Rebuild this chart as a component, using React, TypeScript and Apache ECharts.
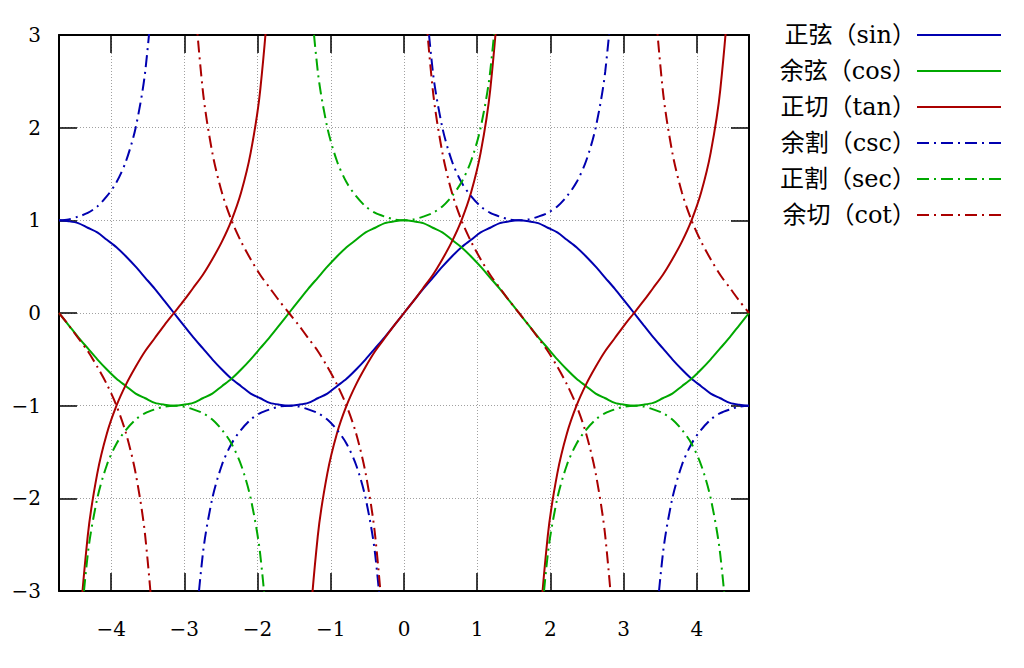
import React, { useEffect, useRef } from "react";
import * as echarts from "echarts";

// x sample positions (radians), from -3π/2 to 3π/2
const X: number[] = [
  -4.712, -4.581, -4.451, -4.32, -4.189, -4.058, -3.927, -3.796, -3.665, -3.534, -3.403, -3.272,
  -3.142, -3.011, -2.88, -2.749, -2.618, -2.487, -2.356, -2.225, -2.094, -1.963, -1.833, -1.702,
  -1.571, -1.44, -1.309, -1.178, -1.047, -0.916, -0.785, -0.654, -0.524, -0.393, -0.262, -0.131,
  0,
  0.131, 0.262, 0.393, 0.524, 0.654, 0.785, 0.916, 1.047, 1.178, 1.309, 1.44, 1.571,
  1.702, 1.833, 1.963, 2.094, 2.225, 2.356, 2.487, 2.618, 2.749, 2.88, 3.011, 3.142,
  3.272, 3.403, 3.534, 3.665, 3.796, 3.927, 4.058, 4.189, 4.32, 4.451, 4.581, 4.712,
];

const SIN: (number | null)[] = [
  1, 0.99, 0.97, 0.92, 0.87, 0.79, 0.71, 0.61, 0.5, 0.38, 0.26, 0.13, 0,
  -0.13, -0.26, -0.38, -0.5, -0.61, -0.71, -0.79, -0.87, -0.92, -0.97, -0.99, -1,
  -0.99, -0.97, -0.92, -0.87, -0.79, -0.71, -0.61, -0.5, -0.38, -0.26, -0.13, 0,
  0.13, 0.26, 0.38, 0.5, 0.61, 0.71, 0.79, 0.87, 0.92, 0.97, 0.99, 1,
  0.99, 0.97, 0.92, 0.87, 0.79, 0.71, 0.61, 0.5, 0.38, 0.26, 0.13, 0,
  -0.13, -0.26, -0.38, -0.5, -0.61, -0.71, -0.79, -0.87, -0.92, -0.97, -0.99, -1,
];

const COS: (number | null)[] = [
  0, -0.13, -0.26, -0.38, -0.5, -0.61, -0.71, -0.79, -0.87, -0.92, -0.97, -0.99, -1,
  -0.99, -0.97, -0.92, -0.87, -0.79, -0.71, -0.61, -0.5, -0.38, -0.26, -0.13, 0,
  0.13, 0.26, 0.38, 0.5, 0.61, 0.71, 0.79, 0.87, 0.92, 0.97, 0.99, 1,
  0.99, 0.97, 0.92, 0.87, 0.79, 0.71, 0.61, 0.5, 0.38, 0.26, 0.13, 0,
  -0.13, -0.26, -0.38, -0.5, -0.61, -0.71, -0.79, -0.87, -0.92, -0.97, -0.99, -1,
  -0.99, -0.97, -0.92, -0.87, -0.79, -0.71, -0.61, -0.5, -0.38, -0.26, -0.13, 0,
];

const TAN: (number | null)[] = [
  null,
  -7.6, -3.73, -2.41, -1.73, -1.3, -1, -0.77, -0.58, -0.41, -0.27, -0.13, 0,
  0.13, 0.27, 0.41, 0.58, 0.77, 1, 1.3, 1.73, 2.41, 3.73, 7.6, null,
  -7.6, -3.73, -2.41, -1.73, -1.3, -1, -0.77, -0.58, -0.41, -0.27, -0.13, 0,
  0.13, 0.27, 0.41, 0.58, 0.77, 1, 1.3, 1.73, 2.41, 3.73, 7.6, null,
  -7.6, -3.73, -2.41, -1.73, -1.3, -1, -0.77, -0.58, -0.41, -0.27, -0.13, 0,
  0.13, 0.27, 0.41, 0.58, 0.77, 1, 1.3, 1.73, 2.41, 3.73, 7.6, null,
];

const CSC: (number | null)[] = [
  1, 1.01, 1.04, 1.08, 1.15, 1.26, 1.41, 1.64, 2, 2.61, 3.86, 7.66, null,
  -7.66, -3.86, -2.61, -2, -1.64, -1.41, -1.26, -1.15, -1.08, -1.04, -1.01, -1,
  -1.01, -1.04, -1.08, -1.15, -1.26, -1.41, -1.64, -2, -2.61, -3.86, -7.66, null,
  7.66, 3.86, 2.61, 2, 1.64, 1.41, 1.26, 1.15, 1.08, 1.04, 1.01, 1,
  1.01, 1.04, 1.08, 1.15, 1.26, 1.41, 1.64, 2, 2.61, 3.86, 7.66, null,
  -7.66, -3.86, -2.61, -2, -1.64, -1.41, -1.26, -1.15, -1.08, -1.04, -1.01, -1,
];

const SEC: (number | null)[] = [
  null,
  -7.66, -3.86, -2.61, -2, -1.64, -1.41, -1.26, -1.15, -1.08, -1.04, -1.01, -1,
  -1.01, -1.04, -1.08, -1.15, -1.26, -1.41, -1.64, -2, -2.61, -3.86, -7.66, null,
  7.66, 3.86, 2.61, 2, 1.64, 1.41, 1.26, 1.15, 1.08, 1.04, 1.01, 1,
  1.01, 1.04, 1.08, 1.15, 1.26, 1.41, 1.64, 2, 2.61, 3.86, 7.66, null,
  -7.66, -3.86, -2.61, -2, -1.64, -1.41, -1.26, -1.15, -1.08, -1.04, -1.01, -1,
  -1.01, -1.04, -1.08, -1.15, -1.26, -1.41, -1.64, -2, -2.61, -3.86, -7.66, null,
];

const COT: (number | null)[] = [
  0, -0.13, -0.27, -0.41, -0.58, -0.77, -1, -1.3, -1.73, -2.41, -3.73, -7.6, null,
  7.6, 3.73, 2.41, 1.73, 1.3, 1, 0.77, 0.58, 0.41, 0.27, 0.13, 0,
  -0.13, -0.27, -0.41, -0.58, -0.77, -1, -1.3, -1.73, -2.41, -3.73, -7.6, null,
  7.6, 3.73, 2.41, 1.73, 1.3, 1, 0.77, 0.58, 0.41, 0.27, 0.13, 0,
  -0.13, -0.27, -0.41, -0.58, -0.77, -1, -1.3, -1.73, -2.41, -3.73, -7.6, null,
  7.6, 3.73, 2.41, 1.73, 1.3, 1, 0.77, 0.58, 0.41, 0.27, 0.13, 0,
];

const X_TICKS = [-4, -3, -2, -1, 0, 1, 2, 3, 4];
const X_MIN = -4.712;
const X_MAX = 4.712;
const Y_MIN = -3;
const Y_MAX = 3;

const NAMES = ["正弦（sin）", "余弦（cos）", "正切（tan）", "余割（csc）", "正割（sec）", "余切（cot）"];
const VALUES = [SIN, COS, TAN, CSC, SEC, COT];
const COLORS = ["#0000b0", "#00a800", "#aa0000", "#0000b0", "#00a800", "#aa0000"];
const DASHED = [false, false, false, true, true, true];

const FONT = "DejaVu Serif, Noto Sans CJK SC";
const fmt = (v: number) => (v < 0 ? "\u2212" + Math.abs(v) : String(v));

export default function App() {
  const ref = useRef<HTMLDivElement>(null);
  useEffect(() => {
    if (!ref.current) return;
    const chart = echarts.init(ref.current, null, { renderer: "svg" });
    const tickStyle = { show: true, inside: true, length: 18, lineStyle: { color: "#000", width: 1.5 } };
    const axisLine = { show: true, onZero: false, lineStyle: { color: "#000", width: 2 } };
    const splitLine = { show: true, lineStyle: { color: "#a0a0a0", width: 1, type: [1, 2] } };
    const tickText = { fontSize: 20, fontFamily: FONT, color: "#000" };
    chart.setOption({
      animation: false,
      backgroundColor: "#fff",
      grid: { left: 59, right: 275, top: 35, bottom: 77, containLabel: false },
      legend: {
        orient: "vertical",
        right: 22,
        top: 23,
        padding: 0,
        align: "right",
        itemWidth: 84,
        itemHeight: 14,
        itemGap: 12,
        selectedMode: false,
        itemStyle: { color: "transparent", borderWidth: 0, opacity: 0 },
        textStyle: { fontSize: 24, fontFamily: FONT, color: "#000", padding: [0, -4, 0, 0] },
        lineStyle: { width: 2 },
        data: NAMES,
      },
      xAxis: [
        {
          type: "value",
          position: "bottom",
          min: X_MIN,
          max: X_MAX,
          axisLine,
          axisTick: { ...tickStyle, customValues: X_TICKS },
          axisLabel: { ...tickText, customValues: X_TICKS, margin: 28, formatter: fmt },
          splitLine,
        },
        {
          type: "value",
          position: "top",
          min: X_MIN,
          max: X_MAX,
          axisLine,
          axisTick: { ...tickStyle, customValues: X_TICKS },
          axisLabel: { show: false, customValues: X_TICKS },
          splitLine: { show: false },
        },
      ],
      yAxis: [
        {
          type: "value",
          position: "left",
          min: Y_MIN,
          max: Y_MAX,
          interval: 1,
          axisLine,
          axisTick: tickStyle,
          axisLabel: { ...tickText, margin: 18, formatter: fmt },
          splitLine,
        },
        {
          type: "value",
          position: "right",
          min: Y_MIN,
          max: Y_MAX,
          interval: 1,
          axisLine,
          axisTick: tickStyle,
          axisLabel: { show: false },
          splitLine: { show: false },
        },
      ],
      series: NAMES.map((name, s) => ({
        name,
        type: "line",
        xAxisIndex: 0,
        yAxisIndex: 0,
        showSymbol: false,
        symbol: "none",
        connectNulls: false,
        clip: true,
        smooth: 0.3,
        color: COLORS[s],
        lineStyle: { color: COLORS[s], width: 2, type: DASHED[s] ? [12, 5, 2, 5] : "solid" },
        data: X.map((x, i) => [x, VALUES[s][i] === null ? "-" : VALUES[s][i]]),
        z: 2,
      })),
    });
    return () => chart.dispose();
  }, []);
  return (
    <div
      ref={ref}
      style={{ position: "fixed", left: 0, top: 0, width: 1024, height: 668, background: "#fff" }}
    />
  );
}
